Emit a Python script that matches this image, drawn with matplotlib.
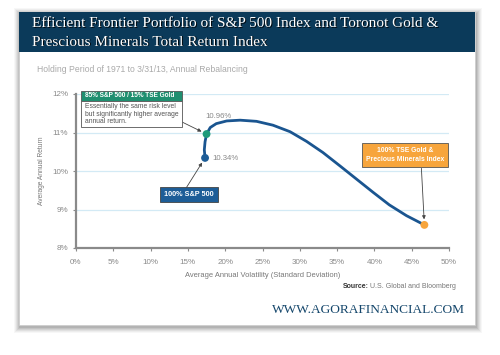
import matplotlib
matplotlib.use('Agg')
import matplotlib.pyplot as plt
from matplotlib.patches import Rectangle
from matplotlib.ticker import FuncFormatter
from matplotlib import font_manager

# frontier curve (volatility %, return %)
vol = [17.3, 17.2, 17.3, 17.5, 18.0, 18.8, 20.2, 22.0, 24.2, 26.4, 28.7, 30.9,
       33.1, 35.4, 37.6, 39.8, 42.0, 44.3, 46.7]
ret = [10.34, 10.55, 10.76, 10.96, 11.13, 11.23, 11.30, 11.32, 11.29, 11.19, 11.02, 10.77,
       10.48, 10.13, 9.79, 9.45, 9.12, 8.84, 8.60]

# highlighted portfolios
pt_names = ['100% S&P 500', '85% S&P 500 / 15% TSE Gold', '100% TSE Gold &\nPrecious Minerals Index']
pt_vol = [17.3, 17.5, 46.7]
pt_ret = [10.34, 10.96, 8.60]
pt_colors = ['#1d5d97', '#1f9a7a', '#f7a53c']

xticks = [0, 5, 10, 15, 20, 25, 30, 35, 40, 45, 50]
yticks = [8, 9, 10, 11, 12]

names = {f.name for f in font_manager.fontManager.ttflist}
narrow = ['Liberation Sans Narrow', 'DejaVu Sans'] if 'Liberation Sans Narrow' in names else ['Liberation Sans', 'DejaVu Sans']
serif = ['Liberation Serif', 'DejaVu Serif']

W, H = 500, 355
fig = plt.figure(figsize=(5, 3.55), dpi=100)
fig.patch.set_facecolor('white')


def P(x, y):
    return x / W, 1 - y / H


def rect(x0, y0, x1, y1, **kw):
    a, b = P(x0, y1)
    c, d = P(x1, y0)
    fig.patches.append(Rectangle((a, b), c - a, d - b, transform=fig.transFigure, **kw))


# card shadow
for i, a in enumerate([0.03, 0.04, 0.05, 0.06, 0.07, 0.08]):
    g = 6 - i
    rect(19 - g + 1, 12 - g + 2, 475 + g + 1, 325 + g + 2, facecolor='black', alpha=a,
         edgecolor='none', zorder=0)
rect(19, 12, 475, 325, facecolor='white', edgecolor='#cccccc', lw=0.5, zorder=1)
# header band
rect(19, 12, 475, 52, facecolor='#0b3a5a', edgecolor='none', zorder=2)

title_lines = ['Efficient Frontier Portfolio of S&P 500 Index and Toronot Gold &',
               'Prescious Minerals Total Return Index']
for i, line in enumerate(title_lines):
    yy = 23.5 + i * 18.5
    fig.text(*P(32.8, yy + 0.8), line, color='black', fontsize=11, family=serif,
             va='center', ha='left', zorder=3, alpha=0.8)
    fig.text(*P(32, yy), line, color='white', fontsize=11, family=serif,
             va='center', ha='left', zorder=4)

fig.text(*P(37, 70), 'Holding Period of 1971 to 3/31/13, Annual Rebalancing',
         color='#aaaaaa', fontsize=6.2, family=narrow, va='center', ha='left', zorder=4)

ax = fig.add_axes([76 / W, 1 - 248 / H, 373 / W, 154 / H], zorder=5)
ax.set_facecolor('none')
ax.set_xlim(0, 50)
ax.set_ylim(8, 12)
ax.set_xticks(xticks)
ax.set_yticks(yticks)
ax.xaxis.set_major_formatter(FuncFormatter(lambda v, p: f'{v:.0f}%'))
ax.yaxis.set_major_formatter(FuncFormatter(lambda v, p: f'{v:.0f}%'))
for y in yticks[1:]:
    ax.axhline(y, color='#d3eaf5', lw=0.9, zorder=1)
for s in ['top', 'right']:
    ax.spines[s].set_visible(False)
for s in ['left', 'bottom']:
    ax.spines[s].set_color('#8a8a8a')
    ax.spines[s].set_linewidth(1.6)
ax.tick_params(colors='#8a8a8a', labelcolor='#8a8a8a', labelsize=5.8, length=2, width=0.8)
ax.tick_params(axis='x', pad=6)
for lab in ax.get_xticklabels() + ax.get_yticklabels():
    lab.set_family(narrow)
ax.set_xlabel('Average Annual Volatility (Standard Deviation)', fontsize=5.4,
              color='#777777', family=narrow, labelpad=4)
ax.set_ylabel('Average Annual Return', fontsize=4.8, color='#777777', family=narrow, labelpad=5)

ax.plot(vol, ret, color='#1a5590', lw=2, zorder=3, solid_capstyle='round')
ax.scatter(pt_vol, pt_ret, s=32, c=pt_colors, zorder=4, edgecolors='none')

ax.text(pt_vol[1] - 0.2, pt_ret[1] + 0.46, f'{pt_ret[1]:.2f}%', fontsize=5.6, color='#888888',
        family=narrow, va='center', ha='left')
ax.text(pt_vol[0] + 1.0, pt_ret[0] - 0.02, f'{pt_ret[0]:.2f}%', fontsize=5.6, color='#888888',
        family=narrow, va='center', ha='left')

arrow = dict(arrowstyle='-|>', color='#444444', lw=0.6, mutation_scale=5, shrinkA=0, shrinkB=4)

# 85/15 callout
ax.annotate('', xy=(pt_vol[1], pt_ret[1]), xytext=(13.4, 11.35), arrowprops=arrow)
rect(81, 91, 182, 100.5, facecolor='#1f8f70', edgecolor='#555555', lw=0.6, zorder=6)
fig.text(*P(85, 95.8), pt_names[1], color='white', fontsize=4.7, weight='bold',
         family=narrow, va='center', ha='left', zorder=7)
rect(81, 100.5, 182, 127, facecolor='white', edgecolor='#555555', lw=0.6, zorder=6)
fig.text(*P(85, 114.3), 'Essentially the same risk level\nbut significantly higher average\nannual return.',
         color='#555555', fontsize=4.9, family=narrow, va='center', ha='left',
         linespacing=1.1, zorder=7)

# 100% S&P callout
ax.annotate('', xy=(pt_vol[0], pt_ret[0]), xytext=(14.8, 9.57), arrowprops=arrow)
ax.text(15.15, 9.39, pt_names[0], fontsize=5.2, color='white', weight='bold', family=narrow,
        ha='center', va='center', zorder=6,
        bbox=dict(boxstyle='square,pad=0.6', fc=pt_colors[0], ec='#444444', lw=0.6))

# gold callout
ax.annotate('', xy=(pt_vol[2], pt_ret[2]), xytext=(46.3, 10.07), arrowprops=arrow)
ax.text(44.1, 10.42, pt_names[2], fontsize=4.9, color='white',
        weight='bold', family=narrow, ha='center', va='center', zorder=6, linespacing=1.45,
        bbox=dict(boxstyle='square,pad=0.55', fc=pt_colors[2], ec='#555555', lw=0.6))

# source + site
src = fig.text(*P(456, 287), 'U.S. Global and Bloomberg', color='#777777', fontsize=5.0,
               family=narrow, ha='right', va='center', zorder=7)
r = fig.canvas.get_renderer()
sw = src.get_window_extent(r).width
fig.text(*P(456 - sw - 1.5, 287), 'Source:', color='#333333', fontsize=5.0, weight='bold',
         family=narrow, ha='right', va='center', zorder=7)
fig.text(*P(465, 310), 'WWW.AGORAFINANCIAL.COM', color='#14466b', fontsize=9.6,
         family=serif, ha='right', va='center', zorder=7)

fig.savefig('out.png', dpi=100, facecolor='white')
